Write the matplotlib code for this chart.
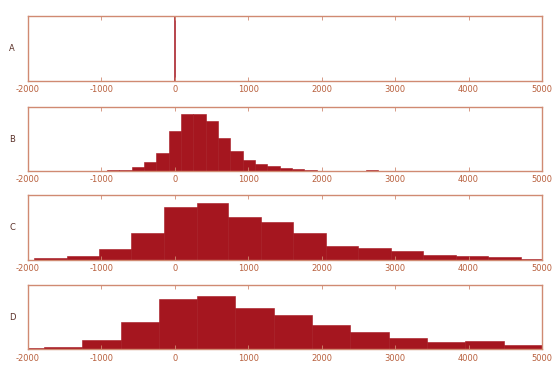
import numpy as np
import matplotlib
matplotlib.use("Agg")
import matplotlib.pyplot as plt

# panel names
panels = ["A", "B", "C", "D"]

# A: every value sits at zero
a_edges = [-8, 8]
a_counts = [65]

# B: narrow bins
b_edges = [-1094, -926, -758, -590, -422, -254, -86, 82, 250, 418, 586, 754,
           922, 1090, 1258, 1426, 1594, 1762, 1930, 2098, 2266, 2434, 2602,
           2770, 2938]
b_counts = [0.5, 1, 1.5, 4, 9, 18.3, 40.7, 58, 58, 50.7, 33.3, 20.7, 11.5,
            7.3, 5, 3, 1.7, 0.8, 0.4, 0.3, 0.3, 0.5, 0.6, 0.2]

# C: wider bins
c_edges = [-1918, -1475, -1035, -600, -145, 300, 726, 1180, 1607, 2056, 2497,
           2937, 3382, 3823, 4267, 4708, 5150]
c_counts = [2, 3.5, 10.7, 27.3, 52.7, 57.3, 43.3, 37.7, 27.3, 14, 12.3, 9, 5,
            4, 2.7, 0.7]

# D: widest bins
d_edges = [-2306, -1784, -1262, -740, -218, 304, 826, 1348, 1870, 2392, 2914,
           3436, 3958, 4480, 5002]
d_counts = [1, 2.7, 10, 27.7, 50.5, 53.7, 41.7, 34.3, 25, 17.3, 12, 7.7, 8.3, 5]

xticks = [-2000, -1000, 0, 1000, 2000, 3000, 4000, 5000]

frame_col = "#d08a72"
text_col = "#b8603e"
bar_col = "#a5161f"

fig = plt.figure(figsize=(5.53, 3.65), dpi=100)
left, width = 0.0506, 0.9295
bottoms = [0.778, 0.5315, 0.2877, 0.0425]
heights = [0.178, 0.1753, 0.178, 0.177]

data = [(a_edges, a_counts), (b_edges, b_counts),
        (c_edges, c_counts), (d_edges, d_counts)]

for name, (edges, counts), bot, h in zip(panels, data, bottoms, heights):
    ax = fig.add_axes([left, bot, width, h])
    edges = np.array(edges, dtype=float)
    ax.bar(edges[:-1], counts, width=np.diff(edges), align="edge",
           color=bar_col, edgecolor=bar_col, linewidth=0.4)
    ax.set_xlim(-2000, 5000)
    ax.set_ylim(0, 65)
    ax.set_yticks([])
    ax.set_xticks(xticks)
    ax.set_xticklabels([str(t) for t in xticks], fontsize=6, color=text_col)
    ax.tick_params(axis="x", direction="in", length=3, width=0.6,
                   color=frame_col, top=True, pad=3)
    for sp in ax.spines.values():
        sp.set_color(frame_col)
        sp.set_linewidth(1.0)
    ax.text(-0.031, 0.5, name, transform=ax.transAxes, fontsize=6,
            color="#5a3028", ha="center", va="center")

fig.savefig("out.png", dpi=100, facecolor="white")
